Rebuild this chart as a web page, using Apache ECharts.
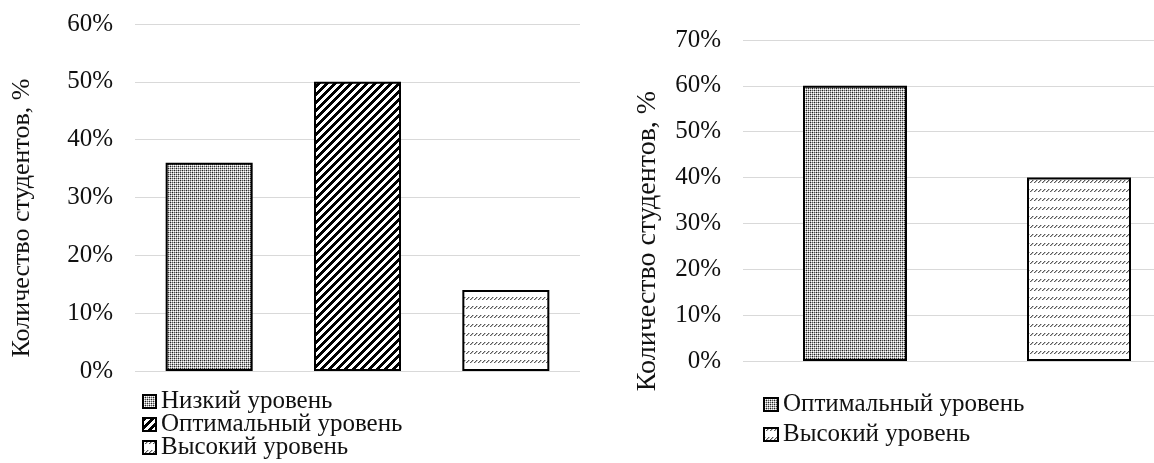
<!DOCTYPE html>
<html>
<head>
<meta charset="utf-8">
<script src="https://cdn.jsdelivr.net/npm/echarts@6/dist/echarts.min.js"></script>
<style>
  html, body { margin: 0; padding: 0; background: #fff; }
  #chart { width: 1154px; height: 463px; }
</style>
</head>
<body>
<div id="chart"></div>
<script>
// Left panel: three achievement levels
const leftCategories = ['Низкий уровень', 'Оптимальный уровень', 'Высокий уровень'];
const leftValues = [36, 50, 14];
const leftTicks = { min: 0, max: 60, interval: 10 };

// Right panel: two achievement levels
const rightCategories = ['Оптимальный уровень', 'Высокий уровень'];
const rightValues = [60, 40];
const rightTicks = { min: 0, max: 70, interval: 10 };

const axisTitle = 'Количество студентов, %';

const FONT = "'Liberation Serif', 'Times New Roman', serif";

// --- hatch fills ---------------------------------------------------------
function makeTile(w, h, painter) {
  const c = document.createElement('canvas');
  c.width = w; c.height = h;
  const ctx = c.getContext('2d');
  ctx.fillStyle = '#fff';
  ctx.fillRect(0, 0, w, h);
  for (let y = 0; y < h; y++) {
    for (let x = 0; x < w; x++) {
      const col = painter(x, y);
      if (col) { ctx.fillStyle = col; ctx.fillRect(x, y, 1, 1); }
    }
  }
  return c;
}

// fine dotted grey
const dotted = makeTile(4, 4, (x, y) => {
  if (x % 2 === 0 && y % 2 === 0) return ((x + y) % 4 === 0) ? '#222' : '#555';
  if (x % 2 === 1 && y % 2 === 1) return '#fff';
  return '#b4b4b4';
});
// wide upward diagonal stripes
const diagonal = makeTile(8, 8, (x, y) => ((x + y) % 8 < 4 ? '#000' : null));
// horizontal bands of small slanted dashes
const dashed = makeTile(4, 9, (x, y) => (y < 3 && (x + y) % 4 === 0 ? '#5a5a5a' : (y < 3 && (x + y) % 4 === 1 ? '#b8b8b8' : null)));

const fillByLevel = {
  'Низкий уровень': dotted,
  'Оптимальный уровень': diagonal,
  'Высокий уровень': dashed
};
const rightFillByLevel = {
  'Оптимальный уровень': dotted,
  'Высокий уровень': dashed
};

// series names carry a panel prefix so each legend finds its own series
const SEP = '|';
const stripPrefix = (name) => name.slice(name.indexOf(SEP) + 1);

function barSeries(prefix, categories, values, fillMap, axisIndex, width) {
  return categories.map((name, i) => ({
    name: prefix + SEP + name,
    type: 'bar',
    xAxisIndex: axisIndex,
    yAxisIndex: axisIndex,
    barWidth: width,
    barGap: '-100%',
    data: categories.map((_, j) => (j === i ? values[i] : '-')),
    itemStyle: {
      color: { image: fillMap[name], repeat: 'repeat' },
      borderColor: '#000',
      borderWidth: 2
    },
    emphasis: { disabled: true },
    animation: false
  }));
}

function valueAxis(ticks, gridIndex) {
  return {
    type: 'value',
    gridIndex: gridIndex,
    min: ticks.min,
    max: ticks.max,
    interval: ticks.interval,
    axisLine: { show: false },
    axisTick: { show: false },
    axisLabel: {
      formatter: '{value}%',
      color: '#111',
      fontFamily: FONT,
      fontSize: 25,
      margin: 22
    },
    splitLine: { lineStyle: { color: '#d9d9d9', width: 1 } }
  };
}

function categoryAxis(categories, gridIndex) {
  return {
    type: 'category',
    gridIndex: gridIndex,
    data: categories,
    axisLine: { show: false },
    axisTick: { show: false },
    axisLabel: { show: false }
  };
}

function legend(prefix, categories, left, top, gap, iconW) {
  return {
    data: categories.map((c) => prefix + SEP + c),
    formatter: stripPrefix,
    orient: 'vertical',
    left: left,
    top: top,
    height: 140,
    padding: 0,
    itemWidth: iconW,
    itemHeight: 13,
    itemGap: gap,
    icon: 'rect',
    itemStyle: { borderColor: '#000', borderWidth: 2 },
    textStyle: { fontFamily: FONT, fontSize: 25, color: '#111', lineHeight: 23 },
    selectedMode: false
  };
}

const chart = echarts.init(document.getElementById('chart'), null, { renderer: 'canvas' });

chart.setOption({
  animation: false,
  grid: [
    { left: 135, top: 24, width: 445, height: 347, outerBoundsMode: 'none' },
    { left: 743, top: 40, width: 448, height: 321, outerBoundsMode: 'none' }
  ],
  xAxis: [categoryAxis(leftCategories, 0), categoryAxis(rightCategories, 1)],
  yAxis: [valueAxis(leftTicks, 0), valueAxis(rightTicks, 1)],
  legend: [
    legend('L', leftCategories, 142, 389, -2, 13),
    legend('R', rightCategories, 763, 392, 5, 14)
  ],
  graphic: [
    {
      type: 'text', x: 22, y: 218, rotation: Math.PI / 2,
      style: { text: axisTitle, font: '26px ' + FONT, fill: '#111', align: 'center', verticalAlign: 'middle' }
    },
    {
      type: 'text', x: 648, y: 241, rotation: Math.PI / 2,
      style: { text: axisTitle, font: '28px ' + FONT, fill: '#111', align: 'center', verticalAlign: 'middle' }
    }
  ],
  series: [
    ...barSeries('L', leftCategories, leftValues, fillByLevel, 0, 87),
    ...barSeries('R', rightCategories, rightValues, rightFillByLevel, 1, 104)
  ]
});
</script>
</body>
</html>
